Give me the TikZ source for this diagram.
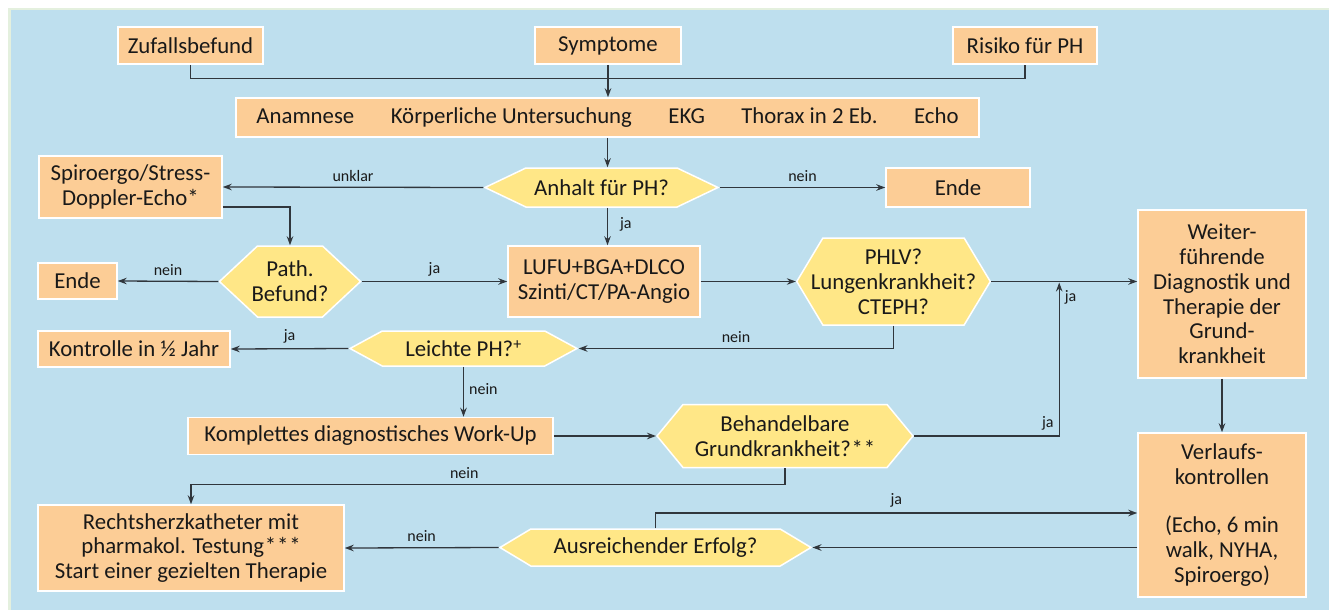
\documentclass[tikz,border=0pt]{standalone}
\usepackage{fontspec}
\setmainfont{Carlito}
\usetikzlibrary{positioning, calc, arrows.meta, shapes.symbols}
\definecolor{bgblue}{RGB}{190,223,238}
\definecolor{rimgreen}{RGB}{228,240,222}
\definecolor{boxorange}{RGB}{252,205,150}
\definecolor{hexyellow}{RGB}{255,231,135}
\definecolor{linegray}{RGB}{48,54,60}
\tikzset{
  box/.style={draw=white, line width=1.5pt, fill=boxorange, align=center, inner sep=2pt, text=black!90,
    font=\fontsize{22.8}{24.8}\selectfont},
  hexa/.style={box, fill=hexyellow, shape=signal, signal to=east and west, signal pointer angle=#1},
  arr/.style={draw=linegray, line width=1.3pt, -{Stealth[length=9pt,width=6.5pt]}},
  lin/.style={draw=linegray, line width=1.3pt},
  lbl/.style={font=\fontsize{16}{18}\selectfont, inner sep=5pt, text=black!90}
}
\newcommand{\stars}[1]{\foreach \i in {1,...,#1}{\kern0.8pt*}}
\begin{document}
\begin{tikzpicture}[x=1pt, y=-1pt]
\useasboundingbox (0,0) rectangle (1329,610);
\fill[white] (0,0) rectangle (1329,610);
\fill[rimgreen] (8,8) rectangle (1329,610);
\fill[bgblue] (11,10.5) rectangle (1329,610);

\node[box, minimum width=145, minimum height=37] (zufall) at (190.5,45.5) {Zufallsbefund};
\node[box, minimum width=146, minimum height=37] (sympt) at (608,45.5) {Symptome};
\node[box, minimum width=144, minimum height=37] (risiko) at (1025,45.5) {Risiko für PH};
\node[box, minimum width=743, minimum height=39] (anam) at (607.5,117.5)
  {Anamnese\hspace{1.6em}Körperliche Untersuchung\hspace{1.6em}EKG\hspace{1.6em}Thorax in 2 Eb.\hspace{1.6em}Echo};
\node[hexa=51, minimum width=233, minimum height=39] (anhalt) at (601.5,187.5) {Anhalt für PH?};
\node[box, minimum width=183, minimum height=62] (spiro) at (130.5,187) {Spiroergo/Stress-\\Doppler-Echo*};
\node[box, minimum width=144, minimum height=39] (ende1) at (958,187.5) {Ende};
\node[hexa=86, inner xsep=-6pt, minimum width=136, minimum height=71] (path) at (290,281.5) {Path.\\Befund?};
\node[box, minimum width=79, minimum height=36] (ende2) at (77.5,281) {Ende};
\node[box, minimum width=192, minimum height=71] (lufu) at (604,281.5) {LUFU+BGA+DLCO\\Szinti/CT/PA-Angio};
\node[hexa=118, inner xsep=-12pt, minimum width=193, minimum height=87] (phlv) at (893.5,281.5) {PHLV?\\Lungenkrankheit?\\CTEPH?};
\node[box, minimum width=168, minimum height=168] (weiter) at (1222,294)
  {Weiter-\\führende\\Diagnostik und\\Therapie der\\Grund-\\krankheit};
\node[hexa=57, minimum width=227, minimum height=35] (leichte) at (463.5,348.5) {Leichte PH?\textsuperscript{+}};
\node[box, minimum width=192, minimum height=36] (kontrolle) at (134,349) {Kontrolle in ½ Jahr};
\node[box, minimum width=365, minimum height=37] (komplett) at (370.5,436) {Komplettes diagnostisches Work-Up};
\node[hexa=101, minimum width=256, minimum height=63] (behandel) at (785,436) {Behandelbare\\Grundkrankheit?\stars{2}};
\node[box, minimum width=306, minimum height=86] (rechts) at (191,548)
  {Rechtsherzkatheter mit\\pharmakol. Testung\stars{3}\\Start einer gezielten Therapie};
\node[box, minimum width=168, minimum height=164] (verlauf) at (1222,515)
  {Verlaufs-\\kontrollen\\[24pt](Echo, 6 min\\walk, NYHA,\\Spiroergo)};
\node[hexa=62, minimum width=311, minimum height=37] (ausr) at (655.5,547.5) {Ausreichender Erfolg?};

\draw[lin] (zufall.south) -- ++(0,14) -| (risiko.south);
\draw[arr] (sympt.south) -- (sympt.south |- anam.north);
\draw[arr] (anam.south) -- (anam.south |- anhalt.north);
\draw[arr] (anhalt.west) -- node[lbl, above] {unklar} (spiro.east);
\draw[arr] (anhalt.east) -- node[lbl, above] {nein} (ende1.west);
\draw[arr] ([yshift=-20pt]spiro.east) -| (path.north);
\draw[arr] (path.west) -- node[lbl, above] {nein} (ende2.east);
\draw[arr] (path.east) -- node[lbl, above] {ja} (lufu.west);
\draw[arr] (anam.south |- anhalt.south) -- node[lbl, right=7pt, pos=0.45] {ja} (anam.south |- lufu.north);
\draw[arr] (lufu.east) -- (phlv.west);
\draw[arr] (phlv.east) -- (weiter.west |- phlv.east);
\draw[arr] (phlv.south) |- node[lbl, above, pos=0.75] {nein} (leichte.east);
\draw[arr] (leichte.west) -- node[lbl, above] {ja} (kontrolle.east);
\draw[arr] (leichte.south) -- node[lbl, right, pos=0.45] {nein} (leichte.south |- komplett.north);
\draw[arr] (komplett.east) -- (behandel.west);
\draw[arr] (behandel.east) -| node[lbl, above left, pos=0.5] {ja} node[lbl, right, pos=0.95] {ja} ($(phlv.east)!0.5!(weiter.west |- phlv.east)+(-5,1)$);
\draw[arr] (behandel.south) -- ++(0,16) -| node[lbl, above, pos=0.27] {nein} (rechts.north);
\draw[arr] (weiter.south) -- (verlauf.north);
\draw[arr] (verlauf.west |- ausr.east) -- (ausr.east);
\draw[arr] (ausr.west) -- node[lbl, above] {nein} (rechts.east);
\draw[arr] (ausr.north) |- node[lbl, above, pos=0.75] {ja} ([yshift=2pt]verlauf.west);
\end{tikzpicture}
\end{document}
